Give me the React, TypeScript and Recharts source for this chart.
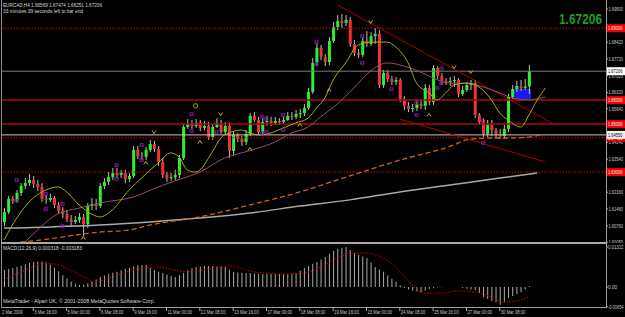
import React from 'react';
import { ComposedChart, Bar, Line, XAxis, YAxis, ReferenceLine, ReferenceArea } from 'recharts';

const FONT = '"Liberation Sans", Arial, sans-serif';

// ---- candles (EURCAD H4), index 0 = first visible bar ----
const openP = [
  1.6092, 1.6133, 1.6188, 1.6179, 1.6213, 1.6242, 1.6254, 1.6267, 1.6250, 1.6238,
  1.6188, 1.6184, 1.6192, 1.6163, 1.6138, 1.6125, 1.6104, 1.6092, 1.6100, 1.6113,
  1.6083, 1.6159, 1.6167, 1.6159, 1.6242, 1.6259, 1.6279, 1.6296, 1.6288, 1.6296,
  1.6271, 1.6284, 1.6392, 1.6367, 1.6363, 1.6392, 1.6417, 1.6396, 1.6342, 1.6288,
  1.6275, 1.6279, 1.6288, 1.6359, 1.6488, 1.6500, 1.6492, 1.6505, 1.6484, 1.6492,
  1.6446, 1.6488, 1.6500, 1.6467, 1.6492, 1.6388, 1.6455, 1.6438, 1.6425, 1.6459,
  1.6534, 1.6517, 1.6467, 1.6509, 1.6513, 1.6505, 1.6513, 1.6509, 1.6517, 1.6534,
  1.6530, 1.6542, 1.6546, 1.6567, 1.6634, 1.6755, 1.6817, 1.6780, 1.6759, 1.6847,
  1.6905, 1.6930, 1.6922, 1.6934, 1.6834, 1.6797, 1.6788, 1.6847, 1.6834, 1.6867,
  1.6876, 1.6663, 1.6713, 1.6688, 1.6676, 1.6684, 1.6605, 1.6576, 1.6563, 1.6567,
  1.6584, 1.6576, 1.6651, 1.6592, 1.6734, 1.6701, 1.6680, 1.6676, 1.6680, 1.6684,
  1.6626, 1.6642, 1.6663, 1.6671, 1.6538, 1.6509, 1.6459, 1.6496, 1.6475, 1.6455,
  1.6450, 1.6480, 1.6613, 1.6646, 1.6659, 1.6651, 1.66569,
];
const highP = [
  1.6150, 1.6200, 1.6200, 1.6225, 1.6254, 1.6275, 1.6292, 1.6284, 1.6267, 1.6254,
  1.6204, 1.6209, 1.6200, 1.6175, 1.6154, 1.6142, 1.6121, 1.6117, 1.6129, 1.6125,
  1.6171, 1.6192, 1.6188, 1.6254, 1.6275, 1.6300, 1.6317, 1.6317, 1.6309, 1.6309,
  1.6296, 1.6409, 1.6409, 1.6384, 1.6405, 1.6434, 1.6430, 1.6409, 1.6359, 1.6300,
  1.6296, 1.6309, 1.6371, 1.6500, 1.6521, 1.6517, 1.6521, 1.6517, 1.6513, 1.6509,
  1.6500, 1.6525, 1.6517, 1.6509, 1.6505, 1.6467, 1.6463, 1.6450, 1.6475, 1.6546,
  1.6550, 1.6530, 1.6525, 1.6534, 1.6530, 1.6530, 1.6525, 1.6534, 1.6550, 1.6550,
  1.6559, 1.6563, 1.6584, 1.6651, 1.6776, 1.6838, 1.6830, 1.6792, 1.6863, 1.6926,
  1.6955, 1.6959, 1.6955, 1.6947, 1.6851, 1.6813, 1.6863, 1.6888, 1.6884, 1.6901,
  1.6892, 1.6726, 1.6726, 1.6701, 1.6696, 1.6692, 1.6617, 1.6592, 1.6584, 1.6601,
  1.6601, 1.6667, 1.6663, 1.6746, 1.6742, 1.6713, 1.6692, 1.6696, 1.6701, 1.6692,
  1.6659, 1.6676, 1.6684, 1.6684, 1.6546, 1.6525, 1.6517, 1.6517, 1.6484, 1.6480,
  1.6496, 1.6626, 1.6663, 1.6680, 1.6684, 1.6688, 1.67474,
];
const lowP = [
  1.6075, 1.6125, 1.6167, 1.6171, 1.6200, 1.6229, 1.6242, 1.6234, 1.6221, 1.6175,
  1.6167, 1.6175, 1.6150, 1.6125, 1.6108, 1.6092, 1.6075, 1.6083, 1.6088, 1.6033,
  1.6067, 1.6142, 1.6142, 1.6150, 1.6229, 1.6246, 1.6267, 1.6275, 1.6275, 1.6254,
  1.6259, 1.6275, 1.6354, 1.6350, 1.6350, 1.6384, 1.6384, 1.6325, 1.6275, 1.6259,
  1.6263, 1.6267, 1.6275, 1.6350, 1.6480, 1.6480, 1.6484, 1.6471, 1.6475, 1.6434,
  1.6434, 1.6484, 1.6459, 1.6455, 1.6359, 1.6367, 1.6425, 1.6409, 1.6413, 1.6450,
  1.6509, 1.6455, 1.6459, 1.6492, 1.6492, 1.6496, 1.6496, 1.6500, 1.6513, 1.6517,
  1.6521, 1.6525, 1.6534, 1.6559, 1.6626, 1.6742, 1.6767, 1.6742, 1.6746, 1.6838,
  1.6892, 1.6901, 1.6909, 1.6822, 1.6784, 1.6776, 1.6780, 1.6822, 1.6826, 1.6834,
  1.6651, 1.6651, 1.6676, 1.6663, 1.6663, 1.6592, 1.6559, 1.6550, 1.6550, 1.6555,
  1.6563, 1.6559, 1.6580, 1.6580, 1.6688, 1.6667, 1.6663, 1.6659, 1.6655, 1.6613,
  1.6617, 1.6634, 1.6642, 1.6525, 1.6496, 1.6446, 1.6446, 1.6450, 1.6442, 1.6438,
  1.6438, 1.6467, 1.6605, 1.6634, 1.6638, 1.6642, 1.66251,
];
const closeP = [
  1.6133, 1.6188, 1.6179, 1.6213, 1.6242, 1.6254, 1.6267, 1.6250, 1.6238, 1.6188,
  1.6184, 1.6192, 1.6163, 1.6138, 1.6125, 1.6104, 1.6092, 1.6100, 1.6113, 1.6083,
  1.6159, 1.6167, 1.6159, 1.6242, 1.6259, 1.6279, 1.6296, 1.6288, 1.6296, 1.6271,
  1.6284, 1.6392, 1.6367, 1.6363, 1.6392, 1.6417, 1.6396, 1.6342, 1.6288, 1.6275,
  1.6279, 1.6288, 1.6359, 1.6488, 1.6500, 1.6492, 1.6505, 1.6484, 1.6492, 1.6446,
  1.6488, 1.6500, 1.6467, 1.6492, 1.6388, 1.6455, 1.6438, 1.6425, 1.6459, 1.6534,
  1.6517, 1.6467, 1.6509, 1.6513, 1.6505, 1.6513, 1.6509, 1.6517, 1.6534, 1.6530,
  1.6542, 1.6546, 1.6567, 1.6634, 1.6755, 1.6817, 1.6780, 1.6759, 1.6847, 1.6905,
  1.6930, 1.6922, 1.6934, 1.6834, 1.6797, 1.6788, 1.6847, 1.6834, 1.6867, 1.6876,
  1.6663, 1.6713, 1.6688, 1.6676, 1.6684, 1.6605, 1.6576, 1.6563, 1.6567, 1.6584,
  1.6576, 1.6651, 1.6592, 1.6734, 1.6701, 1.6680, 1.6676, 1.6680, 1.6684, 1.6626,
  1.6642, 1.6663, 1.6671, 1.6538, 1.6509, 1.6459, 1.6496, 1.6475, 1.6455, 1.6450,
  1.6480, 1.6613, 1.6646, 1.6659, 1.6651, 1.6657, 1.67206,
];

// ---- moving averages (read at sample bars) ----
const yellowIdx = [0, 4, 7, 10, 13, 15, 18, 21, 23, 26, 30, 33, 37, 40, 42, 44, 46, 50, 52, 54, 57, 59, 61, 64, 67, 70, 73, 75, 77, 79, 82, 85, 88, 92, 94, 97, 99, 102, 104, 106, 108, 111, 114, 117, 119, 121, 124, 126, 128, 130];
const yellowVal = [1.6017, 1.6133, 1.6192, 1.6225, 1.6238, 1.6217, 1.6163, 1.6125, 1.6113, 1.6142, 1.6225, 1.6275, 1.6338, 1.6380, 1.6363, 1.6309, 1.6300, 1.6384, 1.6442, 1.6463, 1.6475, 1.6463, 1.6455, 1.6463, 1.6484, 1.6505, 1.6525, 1.6567, 1.6609, 1.6684, 1.6755, 1.6830, 1.6842, 1.6842, 1.6822, 1.6755, 1.6671, 1.6630, 1.6601, 1.6630, 1.6663, 1.6671, 1.6655, 1.6601, 1.6546, 1.6517, 1.6488, 1.6538, 1.6601, 1.6651];

const maroonIdx = [5, 8, 12, 19, 23, 31, 37, 41, 47, 53, 57, 61, 65, 69, 73, 76, 80, 84, 88, 92, 96, 100, 103, 107, 111, 115, 119, 122, 126, 129, 130];
const maroonVal = [1.6008, 1.6058, 1.6117, 1.6154, 1.6171, 1.6196, 1.6238, 1.6263, 1.6300, 1.6359, 1.6380, 1.6400, 1.6425, 1.6463, 1.6488, 1.6530, 1.6584, 1.6651, 1.6722, 1.6755, 1.6742, 1.6717, 1.6692, 1.6671, 1.6671, 1.6655, 1.6630, 1.6609, 1.6601, 1.6609, 1.6613];

const orangeIdx = [2, 9, 23, 30, 35, 47, 59, 71, 83, 95, 108, 111, 117, 121, 126, 129];
const orangeVal = [1.6004, 1.6017, 1.6050, 1.6058, 1.6079, 1.6113, 1.6163, 1.6217, 1.6284, 1.6350, 1.6413, 1.6434, 1.6442, 1.6442, 1.6446, 1.6455];

const grayIdx = [0, 3, 11, 23, 35, 47, 59, 71, 83, 95, 107, 119, 128];
const grayVal = [1.6067, 1.6067, 1.6071, 1.6079, 1.6092, 1.6108, 1.6129, 1.6158, 1.6184, 1.6217, 1.6246, 1.6275, 1.6296];

// ---- markers ----
const purpleIdx = [3, 3, 10, 10, 14, 14, 27, 27, 33, 33, 45, 45, 51, 62, 62, 63, 63, 67, 67, 75, 75, 86, 86, 93, 99, 99, 104, 105, 105, 115, 115];
const purpleVal = [1.6267, 1.6179, 1.6209, 1.6146, 1.6167, 1.6075, 1.6329, 1.6271, 1.6413, 1.6350, 1.6542, 1.6471, 1.6467, 1.6530, 1.6463, 1.6521, 1.6467, 1.6538, 1.6475, 1.6842, 1.6751, 1.6867, 1.6755, 1.6646, 1.6588, 1.6538, 1.6651, 1.6730, 1.6671, 1.6513, 1.6421];
const arrowDnIdx = [36, 52, 88, 108, 112];
const arrowDnVal = [1.6467, 1.6542, 1.6926, 1.6738, 1.6717];
const arrowUpIdx = [19, 34, 47, 59, 71, 78, 102];
const arrowUpVal = [1.6025, 1.6338, 1.6425, 1.6396, 1.6496, 1.6642, 1.6538];
const ringIdx = [46];
const ringVal = [1.6576];

// ---- objects ----
const blueIdx = [123, 126];
const bluePrice = [1.6605, 1.6646];
const upperTrendIdx = [80, 132];
const upperTrendVal = [1.6997, 1.6500];
const lowerTrendIdx = [95, 130];
const lowerTrendVal = [1.6521, 1.6342];
const redSolidLevels = [1.6600, 1.6500];
const redDottedLevels = [1.6900, 1.6443, 1.6300];
const bidLevel = 1.67206;
const whiteLevel = 1.6455;

// ---- axes ----
const priceTicks = [1.6980, 1.6910, 1.6842, 1.6772, 1.6702, 1.6632, 1.6564, 1.6494, 1.6424, 1.6354, 1.6286, 1.6216, 1.6146, 1.6076, 1.6008];
const timeLabelIdx = [0, 7, 15, 23, 31, 39, 47, 55, 63, 71, 79, 87, 95, 103, 111, 119];
const timeLabels = ['2 Mar 2009', '3 Mar 16:00', '5 Mar 00:00', '6 Mar 08:00', '9 Mar 16:00', '11 Mar 00:00', '12 Mar 08:00', '13 Mar 16:00', '17 Mar 00:00', '18 Mar 08:00', '19 Mar 16:00', '23 Mar 00:00', '24 Mar 08:00', '25 Mar 16:00', '27 Mar 00:00', '30 Mar 08:00'];

// ---- MACD(12,26,9) ----
const macdHist = [
  0.0056, 0.0060, 0.0063, 0.0067, 0.0070, 0.0075, 0.0079, 0.0083, 0.0084, 0.0084,
  0.0082, 0.0074, 0.0064, 0.0052, 0.0040, 0.0028, 0.0018, 0.0011, 0.0007, 0.0008,
  0.0012, 0.0017, 0.0025, 0.0033, 0.0038, 0.0043, 0.0047, 0.0050, 0.0055, 0.0060,
  0.0063, 0.0068, 0.0071, 0.0073, 0.0073, 0.0064, 0.0056, 0.0050, 0.0046, 0.0041,
  0.0036, 0.0033, 0.0039, 0.0046, 0.0055, 0.0062, 0.0066, 0.0068, 0.0069, 0.0069,
  0.0069, 0.0068, 0.0067, 0.0066, 0.0058, 0.0050, 0.0048, 0.0047, 0.0046, 0.0046,
  0.0045, 0.0044, 0.0043, 0.0043, 0.0043, 0.0043, 0.0043, 0.0042, 0.0042, 0.0043,
  0.0046, 0.0054, 0.0063, 0.0070, 0.0077, 0.0083, 0.0091, 0.0099, 0.0110, 0.0120,
  0.0126, 0.0130, 0.0132, 0.0122, 0.0112, 0.0106, 0.0101, 0.0096, 0.0081, 0.0066,
  0.0058, 0.0050, 0.0038, 0.0027, 0.0017, 0.0007, -0.0003, -0.0008, -0.0012, -0.0015,
  -0.0017, -0.0012, -0.0007, -0.0004, -0.0002, -0.0001, 0.0000, 0.0000, 0.0000, 0.0000,
  -0.0003, -0.0006, -0.0008, -0.0010, -0.0020, -0.0033, -0.0040, -0.0046, -0.0050, -0.0059,
  -0.0050, -0.0036, -0.0030, -0.0023, -0.0017, -0.0008, 0.0003,
];
const sigIdx = [0, 5, 10, 13, 16, 19, 22, 25, 31, 37, 42, 45, 50, 54, 60, 67, 72, 76, 80, 84, 87, 90, 94, 97, 101, 105, 109, 113, 117, 120, 124, 126];
const sigVal = [0.0023, 0.0055, 0.0079, 0.0073, 0.0055, 0.0035, 0.0017, 0.0028, 0.0056, 0.0066, 0.0053, 0.0050, 0.0063, 0.0069, 0.0050, 0.0043, 0.0046, 0.0066, 0.0096, 0.0112, 0.0112, 0.0102, 0.0066, 0.0020, -0.0020, -0.0020, -0.0013, -0.0017, -0.0033, -0.0050, -0.0043, -0.0032];
const macdTicks = [0.01322, 0, -0.00654];

const SLOTS = 145;

type Row = { [k: string]: number | null };
const rows: Row[] = Array.from({ length: SLOTS }, (_, j) => ({
  j,
  o: j < openP.length ? openP[j] : null,
  h: j < highP.length ? highP[j] : null,
  l: j < lowP.length ? lowP[j] : null,
  c: j < closeP.length ? closeP[j] : null,
  macd: j < macdHist.length ? macdHist[j] : null,
  ma1: null, ma2: null, ma3: null, ma4: null, sig: null,
  pA: null, pB: null, aUp: null, aDn: null, ring: null,
}));
const put = (idx: number[], vals: number[], key: string) => idx.forEach((j, k) => { rows[j][key] = vals[k]; });
put(yellowIdx, yellowVal, 'ma1');
put(maroonIdx, maroonVal, 'ma2');
put(orangeIdx, orangeVal, 'ma3');
put(grayIdx, grayVal, 'ma4');
put(sigIdx, sigVal, 'sig');
put(arrowUpIdx, arrowUpVal, 'aUp');
put(arrowDnIdx, arrowDnVal, 'aDn');
put(ringIdx, ringVal, 'ring');
purpleIdx.forEach((j, k) => {
  if (rows[j].pA == null) rows[j].pA = purpleVal[k];
  else rows[j].pB = purpleVal[k];
});

const boxDefs = [
  ...redDottedLevels.map((v) => ({ v, bg: '#F00000', fg: '#FFFFFF' })),
  ...redSolidLevels.map((v) => ({ v, bg: '#F00000', fg: '#FFFFFF' })),
  { v: bidLevel, bg: '#FFFFFF', fg: '#000000' },
  { v: whiteLevel, bg: '#F0F0F0', fg: '#000000' },
];
// price-scale labels hidden under a level box are not drawn (as in the terminal)
const visiblePriceTicks = priceTicks.filter((t) => !boxDefs.some((b) => Math.abs(b.v - t) < 0.0014));
const mainTicks = [...visiblePriceTicks, ...boxDefs.map((b) => b.v)];

const PriceTick = (props: any) => {
  const { x, y, payload } = props;
  const v = payload.value as number;
  const box = boxDefs.find((b) => b.v === v);
  if (box) {
    return (
      <g>
        <rect x={x - 2} y={y - 4} width={18} height={8} fill={box.bg} />
        <text x={x - 1} y={y + 2.2} fontSize={5.5} fill={box.fg} fontFamily={FONT} textLength={14.5} lengthAdjust="spacingAndGlyphs">
          {v.toFixed(5)}
        </text>
      </g>
    );
  }
  return (
    <g>
      <line x1={x - 3} x2={x - 1} y1={y} y2={y} stroke="#B0B0B0" />
      <text x={x - 0.5} y={y + 2} fontSize={5.5} fill="#C8C8C8" fontFamily={FONT} textLength={14.5} lengthAdjust="spacingAndGlyphs">
        {v.toFixed(5)}
      </text>
    </g>
  );
};

const MacdTick = (props: any) => {
  const { x, y, payload } = props;
  const v = payload.value as number;
  const t = v === 0 ? '0.00' : v.toFixed(5);
  return (
    <g>
      <line x1={x - 3} x2={x - 1} y1={y} y2={y} stroke="#B0B0B0" />
      <text x={x - 1} y={y + 2} fontSize={5.5} fill="#C8C8C8" fontFamily={FONT} textLength={Math.min(15.5, t.length * 2.3)} lengthAdjust="spacingAndGlyphs">
        {t}
      </text>
    </g>
  );
};

const TimeTick = (props: any) => {
  const { x, y, payload } = props;
  const k = timeLabelIdx.indexOf(payload.value);
  const t = k >= 0 ? timeLabels[k] : '';
  const tx = k === 0 ? x - 2 : x + 1;
  return (
    <g>
      {k > 0 && <line x1={x} x2={x} y1={y - 2} y2={y + 1} stroke="#B0B0B0" />}
      <text x={tx} y={y + 3.5} fontSize={5.5} fill="#C8C8C8" fontFamily={FONT} textLength={t.length * 2.05} lengthAdjust="spacingAndGlyphs">
        {t}
      </text>
    </g>
  );
};

const Candle = (props: any) => {
  const { x, y, width, height, payload } = props;
  if (!payload || payload.o == null || x == null || y == null || isNaN(y)) return <g />;
  const { o, h, l, c } = payload;
  const cx = x + width / 2;
  const k = h > l ? height / (h - l) : 0;
  const yo = y + (h - o) * k;
  const yc = y + (h - c) * k;
  const top = Math.min(yo, yc);
  const bh = Math.max(1, Math.abs(yo - yc));
  const up = c >= o;
  return (
    <g>
      <line x1={cx} x2={cx} y1={y} y2={y + height} stroke="#BEBEBE" strokeWidth={1} />
      <rect x={cx - 1.5} y={top} width={3} height={bh} fill={up ? '#2CF02C' : '#F03434'} />
    </g>
  );
};

const ok = (p: any) => p && p.value != null && p.cy != null && !isNaN(p.cy) && p.cx != null;
const purpleDot = (p: any) =>
  ok(p) ? <rect key={p.index} x={p.cx - 1.5} y={p.cy - 1.2} width={3} height={2.4} fill="none" stroke="#8A1AAE" strokeWidth={1} /> : <g key={p.index} />;
const dnDot = (p: any) =>
  ok(p) ? <polyline key={p.index} points={`${p.cx - 2},${p.cy - 1.5} ${p.cx},${p.cy + 1.5} ${p.cx + 2},${p.cy - 1.5}`} fill="none" stroke="#C0C000" strokeWidth={1} /> : <g key={p.index} />;
const upDot = (p: any) =>
  ok(p) ? <polyline key={p.index} points={`${p.cx - 2},${p.cy + 1.5} ${p.cx},${p.cy - 1.5} ${p.cx + 2},${p.cy + 1.5}`} fill="none" stroke="#C0C000" strokeWidth={1} /> : <g key={p.index} />;
const ringDot = (p: any) =>
  ok(p) ? <circle key={p.index} cx={p.cx} cy={p.cy} r={2.2} fill="none" stroke="#A8A800" strokeWidth={1} /> : <g key={p.index} />;

export default function App() {
  return (
    <div style={{ position: 'fixed', left: 0, top: 0, width: 625, height: 317, background: '#000', overflow: 'hidden' }}>
      <div style={{ position: 'absolute', left: 0, top: 0 }}>
        <ComposedChart width={625} height={243} data={rows} margin={{ top: 0, right: 0, bottom: 0, left: 2 }}>
          <XAxis dataKey="j" type="category" hide />
          <YAxis
            orientation="right"
            type="number"
            width={19}
            domain={[1.60042, 1.70175]}
            allowDataOverflow
            ticks={mainTicks}
            interval={0}
            tick={<PriceTick />}
            axisLine={false}
            tickLine={false}
            tickSize={2}
            tickMargin={1}
          />
          <ReferenceArea x1={blueIdx[0]} x2={blueIdx[1]} y1={bluePrice[0]} y2={bluePrice[1]} fill="#1818F8" fillOpacity={1} stroke="none" />
          {redSolidLevels.map((v) => (
            <ReferenceLine key={'rs' + v} y={v} stroke="#A80A0A" strokeWidth={1.5} />
          ))}
          {redDottedLevels.map((v) => (
            <ReferenceLine key={'rd' + v} y={v} stroke="#E00000" strokeDasharray="1.5 1.5" />
          ))}
          <ReferenceLine y={bidLevel} stroke="#7C7C7C" />
          <ReferenceLine y={whiteLevel} stroke="#C8C8C8" />
          <ReferenceLine
            segment={[{ x: upperTrendIdx[0], y: upperTrendVal[0] }, { x: upperTrendIdx[1], y: upperTrendVal[1] }]}
            stroke="#B00000"
          />
          <ReferenceLine
            segment={[{ x: lowerTrendIdx[0], y: lowerTrendVal[0] }, { x: lowerTrendIdx[1], y: lowerTrendVal[1] }]}
            stroke="#B00000"
          />
          <Line dataKey="ma4" stroke="#A9A9A9" strokeWidth={1.5} dot={false} activeDot={false} connectNulls type="monotone" isAnimationActive={false} />
          <Line dataKey="ma3" stroke="#C8651C" strokeWidth={1.3} strokeDasharray="5 3" dot={false} activeDot={false} connectNulls type="monotone" isAnimationActive={false} />
          <Line dataKey="ma2" stroke="#9A4E6E" strokeWidth={1} dot={false} activeDot={false} connectNulls type="monotone" isAnimationActive={false} />
          <Line dataKey="ma1" stroke="#AAAA10" strokeWidth={1} dot={false} activeDot={false} connectNulls type="monotone" isAnimationActive={false} />
          <Bar dataKey={(d: any) => (d.o == null ? null : [d.l, d.h])} barSize={3} shape={<Candle />} isAnimationActive={false} />
          <Line dataKey="pA" stroke="none" dot={purpleDot} activeDot={false} isAnimationActive={false} />
          <Line dataKey="pB" stroke="none" dot={purpleDot} activeDot={false} isAnimationActive={false} />
          <Line dataKey="aDn" stroke="none" dot={dnDot} activeDot={false} isAnimationActive={false} />
          <Line dataKey="aUp" stroke="none" dot={upDot} activeDot={false} isAnimationActive={false} />
          <Line dataKey="ring" stroke="none" dot={ringDot} activeDot={false} isAnimationActive={false} />
        </ComposedChart>
      </div>
      <div style={{ position: 'absolute', left: 0, top: 243 }}>
        <ComposedChart width={625} height={74} data={rows} margin={{ top: 1, right: 0, bottom: 0, left: 2 }}>
          <XAxis
            dataKey="j"
            type="category"
            ticks={timeLabelIdx}
            interval={0}
            tick={<TimeTick />}
            height={9}
            axisLine={false}
            tickLine={false}
            tickSize={2}
            tickMargin={0}
          />
          <YAxis
            orientation="right"
            type="number"
            width={19}
            domain={[-0.00694, 0.01421]}
            allowDataOverflow
            ticks={macdTicks}
            interval={0}
            tick={<MacdTick />}
            axisLine={false}
            tickLine={false}
            tickSize={2}
            tickMargin={1}
          />
          <Bar dataKey="macd" fill="#ABABAB" barSize={1} isAnimationActive={false} />
          <Line dataKey="sig" stroke="#D00000" strokeWidth={1} strokeDasharray="1.5 1.5" dot={false} activeDot={false} connectNulls type="monotone" isAnimationActive={false} />
        </ComposedChart>
      </div>
      {/* frame */}
      <div style={{ position: 'absolute', left: 1, top: 0, width: 1, height: 308, background: '#8A8A8A' }} />
      <div style={{ position: 'absolute', left: 606, top: 0, width: 1, height: 308, background: '#A0A0A0' }} />
      <div style={{ position: 'absolute', left: 1, top: 242, width: 606, height: 2, background: '#A8A8A8' }} />
      <div style={{ position: 'absolute', left: 1, top: 307, width: 606, height: 1, background: '#A0A0A0' }} />
      <svg width={625} height={317} style={{ position: 'absolute', left: 0, top: 0, pointerEvents: 'none' }}>
        <text x={3} y={7} fontSize={5.5} fill="#D8D8D8" fontFamily={FONT} textLength={99} lengthAdjust="spacingAndGlyphs">
          EURCAD,H4  1.66569 1.67474 1.66251 1.67206
        </text>
        <text x={3} y={12.5} fontSize={5.5} fill="#D8D8D8" fontFamily={FONT} textLength={80} lengthAdjust="spacingAndGlyphs">
          33 minutes 39 seconds left to bar end
        </text>
        <text x={559} y={24} fontSize={14} fontWeight="bold" fill="#1E9E1E" fontFamily={FONT} textLength={43} lengthAdjust="spacingAndGlyphs">
          1.67206
        </text>
        <text x={3} y={250} fontSize={5.5} fill="#D8D8D8" fontFamily={FONT} textLength={79} lengthAdjust="spacingAndGlyphs">
          MACD(12,26,9) 0.000318 -0.003183
        </text>
        <text x={3} y={303} fontSize={5.5} fill="#D8D8D8" fontFamily={FONT} textLength={152} lengthAdjust="spacingAndGlyphs">
          MetaTrader - Alpari UK, © 2001-2008 MetaQuotes Software Corp.
        </text>
      </svg>
    </div>
  );
}
